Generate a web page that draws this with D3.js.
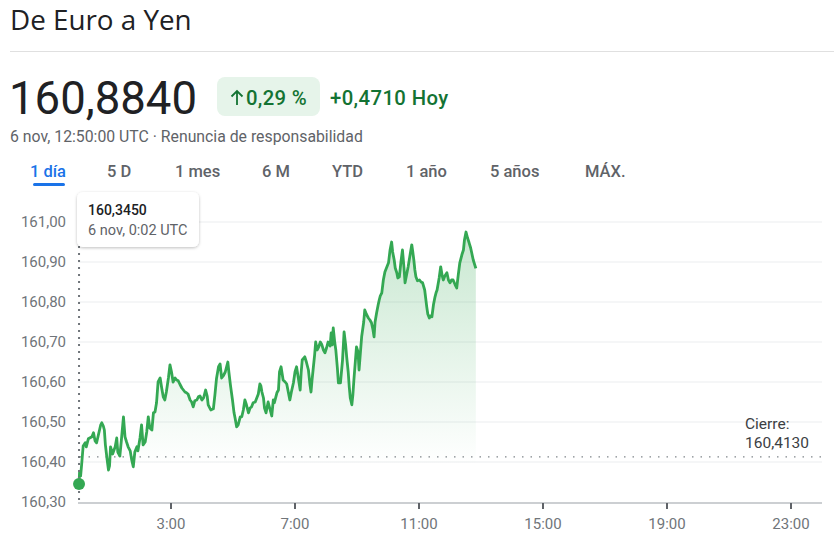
<!DOCTYPE html>
<html><head><meta charset="utf-8">
<script src="https://cdn.jsdelivr.net/npm/d3@7"></script>
<style>
html,body{margin:0;padding:0;background:#fff;}
svg{display:block;font-family:Roboto,"Noto Sans",Arial,sans-serif;}
</style></head>
<body>
<svg id="chart" width="834" height="550"></svg>
<script>
// ---- data ----
const title = "De Euro a Yen";
const lastPrice = "160,8840";
const changePct = "0,29 %";
const changeAbs = "+0,4710 Hoy";
const subtitle = "6 nov, 12:50:00 UTC · Renuncia de responsabilidad";
const tabs = ["1 día", "5 D", "1 mes", "6 M", "YTD", "1 año", "5 años", "MÁX."];
const prevClose = 160.413;
const prevCloseLabel = ["Cierre:", "160,4130"];
const tooltipLines = ["160,3450", "6 nov, 0:02 UTC"];
const yTicks = [160.30, 160.40, 160.50, 160.60, 160.70, 160.80, 160.90, 161.00];
const xTickHours = [3, 7, 11, 15, 19, 23];
// minutes after 0:00 UTC
const minutes = [2,3,5,7,10,14,16,20,27,30,33,36,39,44,46,49,51,53,56,59,61,63,67,72,75,77,81,84,88,91,94,97,101,104,107,110,114,116,120,123,126,130,133,136,139,143,146,149,152,155,159,162,165,168,171,175,178,181,184,188,191,194,197,201,204,207,210,213,217,220,223,226,230,233,236,240,243,247,250,252,257,262,265,268,272,275,278,281,285,290,292,295,299,302,304,307,310,314,317,320,323,326,330,333,336,339,343,346,349,352,354,356,359,361,364,368,372,375,378,380,385,388,390,393,397,401,404,407,410,413,417,420,423,427,430,432,434,439,442,446,449,451,453,455,458,460,463,466,469,472,475,478,481,484,488,490,492,494,497,499,502,504,508,512,515,518,520,523,525,527,530,532,534,537,539,542,544,547,549,553,555,558,562,565,568,571,573,575,578,581,583,585,588,591,594,597,601,604,607,609,612,614,617,619,622,625,628,631,633,636,639,643,646,648,650,652,654,657,661,664,667,671,675,677,680,682,685,688,691,693,695,699,702,705,707,710,714,717,720,723,726,730,733,736,739,743,746,748,751,754,757,760,762,765,770];
const rates = [160.345,160.375,160.365,160.393,160.440,160.448,160.438,160.458,160.463,160.473,160.453,160.448,160.465,160.493,160.498,160.490,160.480,160.443,160.410,160.380,160.390,160.438,160.420,160.438,160.460,160.425,160.415,160.455,160.513,160.463,160.450,160.438,160.428,160.405,160.388,160.425,160.438,160.428,160.460,160.493,160.443,160.450,160.475,160.513,160.485,160.480,160.523,160.525,160.548,160.600,160.610,160.585,160.563,160.555,160.575,160.610,160.643,160.625,160.600,160.610,160.605,160.603,160.595,160.585,160.580,160.575,160.573,160.570,160.555,160.550,160.538,160.553,160.555,160.563,160.565,160.555,160.560,160.580,160.565,160.543,160.530,160.533,160.568,160.608,160.638,160.645,160.610,160.615,160.625,160.650,160.625,160.593,160.555,160.523,160.510,160.488,160.493,160.513,160.513,160.530,160.555,160.543,160.523,160.535,160.538,160.548,160.550,160.560,160.570,160.595,160.590,160.575,160.560,160.535,160.523,160.550,160.530,160.515,160.555,160.548,160.573,160.580,160.625,160.638,160.605,160.600,160.595,160.575,160.555,160.575,160.598,160.625,160.638,160.605,160.580,160.625,160.655,160.663,160.650,160.630,160.593,160.575,160.605,160.630,160.668,160.700,160.680,160.688,160.700,160.693,160.680,160.673,160.685,160.700,160.690,160.723,160.693,160.735,160.698,160.680,160.635,160.598,160.598,160.655,160.725,160.693,160.663,160.625,160.588,160.560,160.543,160.568,160.605,160.655,160.688,160.675,160.630,160.680,160.713,160.750,160.780,160.770,160.760,160.755,160.748,160.730,160.713,160.750,160.773,160.793,160.805,160.815,160.823,160.855,160.875,160.885,160.898,160.930,160.950,160.925,160.905,160.885,160.873,160.860,160.863,160.900,160.930,160.885,160.848,160.868,160.888,160.920,160.943,160.925,160.905,160.880,160.863,160.853,160.855,160.850,160.848,160.830,160.788,160.770,160.760,160.765,160.763,160.793,160.813,160.823,160.830,160.860,160.888,160.865,160.855,160.865,160.873,160.855,160.848,160.855,160.855,160.843,160.835,160.868,160.898,160.918,160.930,160.955,160.975,160.960,160.948,160.935,160.923,160.905,160.884];

const series = minutes.map((m, i) => ({m, v: rates[i]}));
const fmt = v => v.toFixed(2).replace(".", ",");

const svg = d3.select("#chart");
const green = "#34a853";
const dark = "#137333";

// ---- header ----
svg.append("text").attr("x", 10).attr("y", 30).attr("font-size", 27.8).attr("font-family", "'Open Sans',Roboto,sans-serif").attr("fill", "#202124").text(title);
svg.append("line").attr("x1", 10).attr("x2", 834).attr("y1", 51.5).attr("y2", 51.5).attr("stroke", "#e0e0e0");
svg.append("text").attr("x", 9).attr("y", 114).attr("font-size", 45.5).attr("fill", "#202124").text(lastPrice);
svg.append("rect").attr("x", 217).attr("y", 77).attr("width", 103).attr("height", 39).attr("rx", 8).attr("fill", "#e6f4ea");
svg.append("path").attr("d", "M237,105 L237,91 M231.5,96.5 L237,91 L242.5,96.5")
  .attr("fill", "none").attr("stroke", dark).attr("stroke-width", 1.8);
svg.append("text").attr("x", 246).attr("y", 105).attr("font-size", 20.3).attr("fill", dark).attr("font-weight", 500).attr("letter-spacing", 0.3).text(changePct);
svg.append("text").attr("x", 330).attr("y", 105).attr("font-size", 20.3).attr("fill", dark).attr("font-weight", 500).attr("letter-spacing", 0.4).text(changeAbs);
svg.append("text").attr("x", 10).attr("y", 142).attr("font-size", 15.8).attr("fill", "#5f6368").text(subtitle);

const tabX = [30, 107, 175, 262, 332, 406, 490, 585];
tabs.forEach((t, i) => {
  svg.append("text").attr("x", tabX[i]).attr("y", 177).attr("font-size", 16.5).attr("font-weight", 500)
    .attr("fill", i === 0 ? "#1a73e8" : "#5f6368").text(t);
});
svg.append("rect").attr("x", 33).attr("y", 183).attr("width", 32).attr("height", 3).attr("rx", 1.5).attr("fill", "#1a73e8");

// ---- chart ----
const x = d3.scaleLinear().domain([0, 1440]).range([78, 822]);
const y = d3.scaleLinear().domain([160.30, 161.00]).range([502, 222]);

const g = svg.append("g");
g.selectAll(".grid").data(yTicks.slice(1)).join("line")
  .attr("x1", 78).attr("x2", 822).attr("y1", d => y(d)).attr("y2", d => y(d))
  .attr("stroke", "#ebedef").attr("stroke-width", 1);
g.selectAll(".ylab").data(yTicks).join("text")
  .attr("x", 66).attr("y", d => y(d) + 5).attr("text-anchor", "end")
  .attr("font-size", 15).attr("fill", "#70757a").text(fmt);

const defs = svg.append("defs");
const grad = defs.append("linearGradient").attr("id", "ag")
  .attr("gradientUnits", "userSpaceOnUse").attr("x1", 0).attr("x2", 0).attr("y1", y(161.0)).attr("y2", 465);
grad.append("stop").attr("offset", 0).attr("stop-color", green).attr("stop-opacity", 0.28);
grad.append("stop").attr("offset", 1).attr("stop-color", green).attr("stop-opacity", 0.0);
const filt = defs.append("filter").attr("id", "sh").attr("x", -0.2).attr("y", -0.3).attr("width", 1.4).attr("height", 1.7);
filt.append("feDropShadow").attr("dx", 0).attr("dy", 1).attr("stdDeviation", 1.8).attr("flood-color", "#000").attr("flood-opacity", 0.25);

g.append("path").datum(series)
  .attr("d", d3.area().x(d => x(d.m)).y0(502).y1(d => y(d.v)))
  .attr("fill", "url(#ag)");

g.append("line").attr("x1", 80).attr("x2", 822).attr("y1", y(prevClose)).attr("y2", y(prevClose))
  .attr("stroke", "#80868b").attr("stroke-width", 1.3).attr("stroke-dasharray", "1.5,7");
g.append("text").attr("x", 745).attr("y", 429).attr("font-size", 15.5).attr("fill", "#3c4043").text(prevCloseLabel[0]);
g.append("text").attr("x", 745).attr("y", 448).attr("font-size", 15.5).attr("fill", "#3c4043").text(prevCloseLabel[1]);

g.append("line").attr("x1", 78).attr("x2", 822).attr("y1", 503).attr("y2", 503).attr("stroke", "#9aa0a6").attr("stroke-width", 1.2);
g.selectAll(".xt").data(xTickHours).join("line")
  .attr("x1", d => x(d * 60)).attr("x2", d => x(d * 60)).attr("y1", 503).attr("y2", 509)
  .attr("stroke", "#5f6368").attr("stroke-width", 2);
g.selectAll(".xl").data(xTickHours).join("text")
  .attr("x", d => x(d * 60)).attr("y", 529).attr("text-anchor", "middle")
  .attr("font-size", 15).attr("fill", "#70757a").text(d => d + ":00");

g.append("path").datum(series)
  .attr("d", d3.line().x(d => x(d.m)).y(d => y(d.v)))
  .attr("fill", "none").attr("stroke", green).attr("stroke-width", 2.8).attr("stroke-linejoin", "round");

const hx = x(series[0].m);
g.append("line").attr("x1", hx).attr("x2", hx).attr("y1", 246).attr("y2", 502)
  .attr("stroke", "#70757a").attr("stroke-width", 2).attr("stroke-dasharray", "2,5");
g.append("circle").attr("cx", hx).attr("cy", y(series[0].v)).attr("r", 6).attr("fill", green);

g.append("rect").attr("x", 77).attr("y", 192).attr("width", 122).attr("height", 55).attr("rx", 6)
  .attr("fill", "#fff").attr("filter", "url(#sh)");
g.append("text").attr("x", 88).attr("y", 215).attr("font-size", 14).attr("font-weight", 500).attr("fill", "#202124").text(tooltipLines[0]);
g.append("text").attr("x", 88).attr("y", 235).attr("font-size", 14.5).attr("fill", "#5f6368").text(tooltipLines[1]);
</script>
</body></html>
